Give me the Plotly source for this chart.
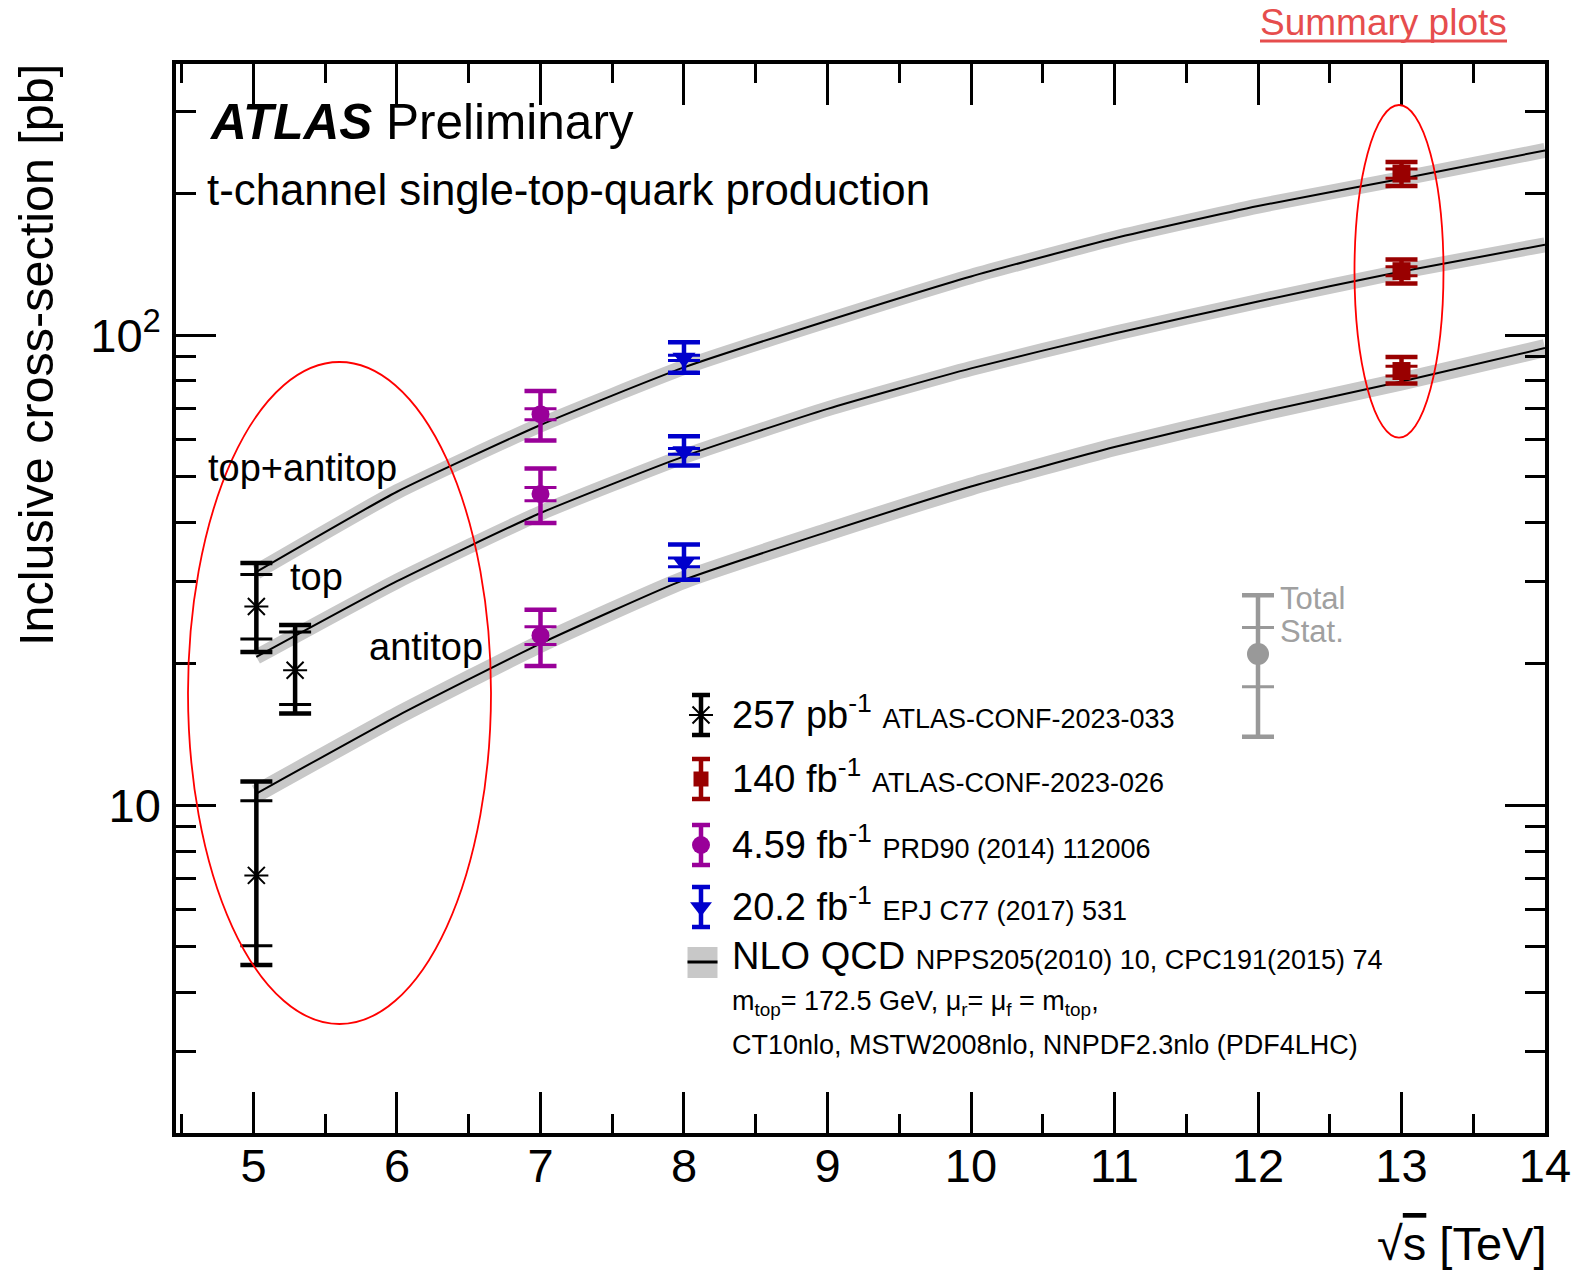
import math
import plotly.graph_objects as go

# ---------------- data ----------------
theory_x = [5.02, 6, 7, 8, 9, 10, 11, 12, 13, 14]
theory_sum = [31.4, 46.5, 64.5, 85.5, 107.5, 133.5, 161.0, 188.5, 215.5, 247.5]
theory_top = [20.7, 30.0, 41.9, 55.3, 69.8, 85.1, 101.0, 118.1, 136.8, 155.9]
theory_antitop = [10.6, 15.5, 22.1, 30.2, 38.2, 47.7, 57.9, 68.4, 79.8, 94.0]

# 5.02 TeV, 257 pb-1 (ATLAS-CONF-2023-033)
x_5tev = [5.02, 5.29, 5.02]
y_5tev = [26.5, 19.4, 7.1]
tot_up_5tev = [6.3, 4.8, 4.14]
tot_dn_5tev = [5.3, 3.7, 2.52]
stat_up_5tev = [4.5, 4.0, 3.13]
stat_dn_5tev = [3.9, 3.0, 2.07]

# 7 TeV, 4.59 fb-1
x_7tev = [7, 7, 7]
y_7tev = [68.0, 46.0, 23.0]
tot_up_7tev = [8.2, 6.1, 3.1]
tot_dn_7tev = [8.2, 6.1, 3.2]
stat_7tev = [1.8, 1.5, 1.0]

# 8 TeV, 20.2 fb-1
x_8tev = [8, 8, 8]
y_8tev = [89.6, 56.7, 32.9]
tot_up_8tev = [7.1, 4.3, 3.0]
tot_dn_8tev = [6.3, 3.8, 2.7]
stat_8tev = [1.2, 0.8, 0.7]

# 13 TeV, 140 fb-1
x_13tev = [13, 13, 13]
y_13tev = [221.0, 137.0, 84.0]
tot_up_13tev = [13.0, 8.0, 6.0]
tot_dn_13tev = [13.0, 8.0, 5.0]
stat_13tev = [5.0, 3.0, 2.0]

# Total / Stat. key
key_x = [12]
key_y = [21.0]
key_tot = [7.0]
key_stat_up = [2.9]
key_stat_dn = [3.1]

x_ticks = [5, 6, 7, 8, 9, 10, 11, 12, 13, 14]
y_ticks = [10, 100]
y_ticktext = ["10", "10<sup>2</sup>"]
y_minor = [3, 4, 5, 6, 7, 8, 9, 20, 30, 40, 50, 60, 70, 80, 90, 200, 300]

FONT = "Liberation Sans, Arial, Helvetica, sans-serif"
BAND = "#c8c8c8"
RED = "#990000"
MAG = "#990099"
BLUE = "#0000cc"
GREY = "#999999"

# plot-area geometry (pixels)
L, R, T, B = 176, 1545, 64, 1133


def PX(x):
    return (x - L) / (R - L)


def PY(y):
    return (B - y) / (B - T)


fig = go.Figure()

# theory bands + lines
for ys, bw in [(theory_sum, 15), (theory_top, 15), (theory_antitop, 18)]:
    fig.add_trace(go.Scatter(x=theory_x, y=ys, mode="lines",
                             line=dict(color=BAND, width=bw, shape="spline", smoothing=0.5),
                             hoverinfo="skip"))
for ys in [theory_sum, theory_top, theory_antitop]:
    fig.add_trace(go.Scatter(x=theory_x, y=ys, mode="lines",
                             line=dict(color="black", width=2, shape="spline", smoothing=0.5),
                             hoverinfo="skip"))


def add_points(x, y, tup, tdn, sup, sdn, color, symbol, size, lw=0):
    fig.add_trace(go.Scatter(
        x=x, y=y, mode="markers", marker=dict(size=2, opacity=0),
        error_y=dict(type="data", symmetric=False, array=tup, arrayminus=tdn,
                     color=color, thickness=4.5, width=16)))
    mk = dict(size=size, color=color, symbol=symbol)
    if lw:
        mk["line"] = dict(color=color, width=lw)
    fig.add_trace(go.Scatter(
        x=x, y=y, mode="markers", marker=mk,
        error_y=dict(type="data", symmetric=False, array=sup, arrayminus=sdn,
                     color=color, thickness=3, width=16)))


add_points(x_5tev, y_5tev, tot_up_5tev, tot_dn_5tev, stat_up_5tev, stat_dn_5tev,
           "black", "asterisk-open", 20, lw=2)
add_points(x_7tev, y_7tev, tot_up_7tev, tot_dn_7tev, stat_7tev, stat_7tev,
           MAG, "circle", 18)
add_points(x_8tev, y_8tev, tot_up_8tev, tot_dn_8tev, stat_8tev, stat_8tev,
           BLUE, "triangle-down", 20)
add_points(x_13tev, y_13tev, tot_up_13tev, tot_dn_13tev, stat_13tev, stat_13tev,
           RED, "square", 18)
add_points(key_x, key_y, key_tot, key_tot, key_stat_up, key_stat_dn,
           GREY, "circle", 22)

# ---------------- legend (pixel overlay axes) ----------------
leg_x = 701
leg_rows = [715, 779, 845, 907]
leg_style = [("black", "asterisk-open", 20, 2), (RED, "square", 15, 0),
             (MAG, "circle", 18, 0), (BLUE, "triangle-down", 19, 0)]
for yy, (c, s, sz, lw) in zip(leg_rows, leg_style):
    mk = dict(size=sz, color=c, symbol=s)
    if lw:
        mk["line"] = dict(color=c, width=lw)
    fig.add_trace(go.Scatter(x=[leg_x], y=[yy], xaxis="x2", yaxis="y2", mode="markers",
                             marker=mk,
                             error_y=dict(type="data", array=[20], color=c,
                                          thickness=4.5, width=9)))

shapes = [
    dict(type="rect", xref="x2", yref="y2", x0=687.5, x1=717.5, y0=947, y1=978,
         fillcolor=BAND, line=dict(width=0), layer="above"),
    dict(type="line", xref="x2", yref="y2", x0=687.5, x1=717.5, y0=962, y1=962,
         line=dict(color="black", width=3), layer="above"),
    dict(type="circle", xref="x2", yref="y2", x0=188, x1=491, y0=362, y1=1024,
         line=dict(color="red", width=1.8), layer="above"),
    dict(type="circle", xref="x2", yref="y2", x0=1354.5, x1=1443.5, y0=105, y1=437.7,
         line=dict(color="red", width=1.8), layer="above"),
    dict(type="line", xref="paper", yref="paper",
         x0=PX(1260), x1=PX(1507), y0=PY(41), y1=PY(41),
         line=dict(color="#e64d4d", width=3)),
]

small = "<span style='font-size:27px'>%s</span>"
ann = []


def txt(x, y, text, size, color="black", xanchor="left", yanchor="middle", angle=0):
    ann.append(dict(x=PX(x), y=PY(y), xref="paper", yref="paper", text=text,
                    showarrow=False, xanchor=xanchor, yanchor=yanchor, textangle=angle,
                    font=dict(size=size, color=color, family=FONT)))


txt(730, 712, "257 pb<sup>-1</sup> " + small % "ATLAS-CONF-2023-033", 38)
txt(730, 776, "140 fb<sup>-1</sup> " + small % "ATLAS-CONF-2023-026", 38)
txt(730, 842, "4.59 fb<sup>-1</sup> " + small % "PRD90 (2014) 112006", 38)
txt(730, 904, "20.2 fb<sup>-1</sup> " + small % "EPJ C77 (2017) 531", 38)
txt(730, 956, "NLO QCD " + small % "NPPS205(2010) 10, CPC191(2015) 74", 38)
txt(730, 1003, "m<sub>top</sub>= 172.5 GeV, μ<sub>r</sub>= μ<sub>f</sub> = m<sub>top</sub>,", 27)
txt(730, 1045, "CT10nlo, MSTW2008nlo, NNPDF2.3nlo (PDF4LHC)", 27)

txt(206, 468, "top+antitop", 38)
txt(288, 577, "top", 38)
txt(367, 647, "antitop", 38)
txt(1278, 598, "Total", 31, color="#a0a0a0")
txt(1278, 631, "Stat.", 31, color="#a0a0a0")

txt(207, 121, "<b><i>ATLAS</i></b> Preliminary", 49.5)
txt(205, 189, "t-channel single-top-quark production", 43.8)
txt(36, 355, "Inclusive cross-section [pb]", 48.5, xanchor="center", angle=-90)
txt(1548, 1243, "√<span style='text-decoration:overline'>s</span> [TeV]", 47,
    xanchor="right")
txt(1258, 22, "Summary plots", 37, color="#e64d4d")

axis_common = dict(showline=True, linewidth=3.5, linecolor="black", mirror="ticks",
                   ticks="inside", tickwidth=2.5, tickcolor="black",
                   showgrid=False, zeroline=False,
                   tickfont=dict(size=47, family=FONT, color="black"))

fig.update_layout(
    width=1585, height=1274,
    margin=dict(l=L, r=1585 - R, t=T, b=1274 - B),
    plot_bgcolor="white", paper_bgcolor="white",
    showlegend=False,
    font=dict(family=FONT, color="black"),
    xaxis=dict(range=[4.46, 14], tickmode="array", tickvals=x_ticks, ticklen=41,
               ticklabelstandoff=-11,
               minor=dict(dtick=0.5, tick0=4.5, ticks="inside", ticklen=19,
                          tickwidth=2.5, tickcolor="black", showgrid=False),
               **axis_common),
    yaxis=dict(type="log", range=[math.log10(2.01), math.log10(378)],
               tickmode="array", tickvals=y_ticks, ticktext=y_ticktext, ticklen=40,
               ticklabelstandoff=2,
               minor=dict(tickmode="array", tickvals=y_minor, ticks="inside",
                          ticklen=20, tickwidth=2.5, tickcolor="black", showgrid=False),
               **axis_common),
    xaxis2=dict(overlaying="x", anchor="y2", range=[L, R], visible=False),
    yaxis2=dict(overlaying="y", anchor="x2", range=[B, T], visible=False),
    shapes=shapes,
    annotations=ann,
)

fig.write_html("out.html")
